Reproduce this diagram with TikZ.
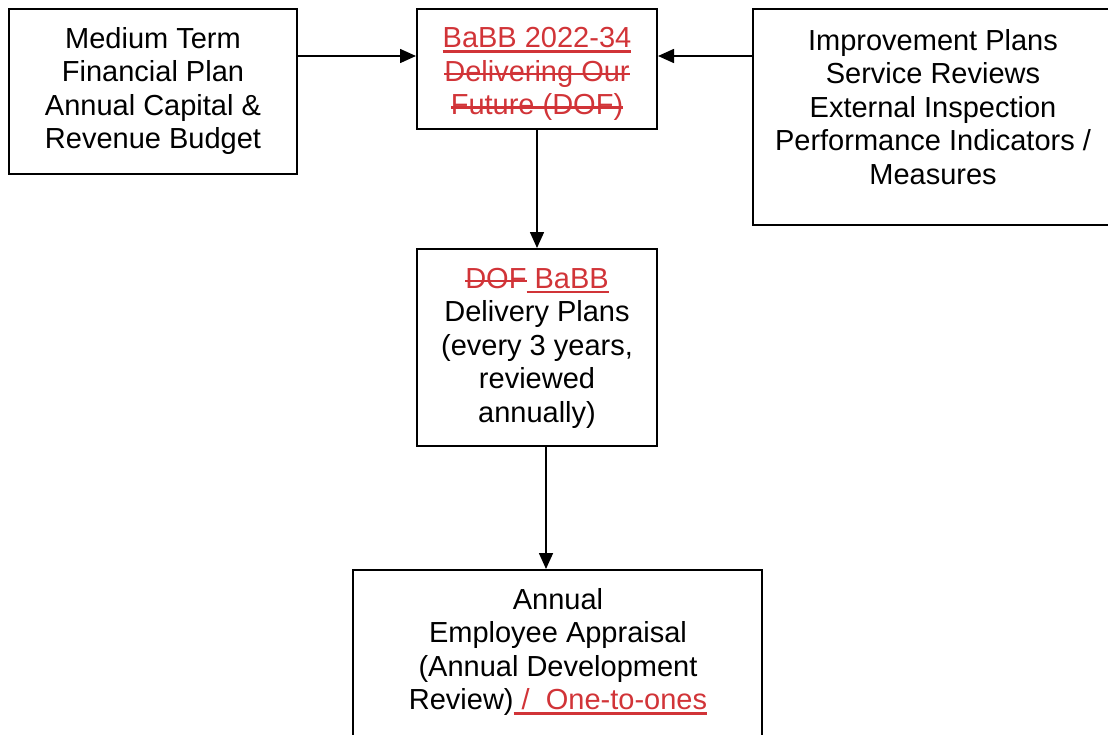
\documentclass[tikz,border=0pt]{standalone}
\usepackage{fontspec}
\setmainfont{Liberation Sans}
\usepackage{tikz}
\usetikzlibrary{arrows.meta}

\definecolor{trackred}{RGB}{209,52,56}
% underlined and struck-out text, red
\newsavebox{\trackbox}
\newcommand{\inserted}[1]{\textcolor{trackred}{\sbox{\trackbox}{#1}%
    \rlap{\rule[-5pt]{\wd\trackbox}{2.6pt}}\usebox{\trackbox}}}
\newcommand{\struck}[1]{\textcolor{trackred}{\sbox{\trackbox}{#1}%
    \rlap{\rule[6pt]{\wd\trackbox}{2.6pt}}\usebox{\trackbox}}}

\begin{document}
\begin{tikzpicture}[
    x=1pt, y=-1pt,
    box/.style={draw, line width=2pt, inner sep=0pt},
    label text/.style={align=center, inner sep=0pt, font=\fontsize{29}{33.5}\selectfont},
    link/.style={draw, line width=1.6pt, -{Triangle[width=14pt,length=16pt]}}
    ]

    \useasboundingbox (0,0) rectangle (1108,734);
    \clip (0,0) rectangle (1108,734);

    % Boxes
    \node[box, minimum width=288pt, minimum height=165pt] (finplan) at (153,91.5) {};
    \node[box, minimum width=240pt, minimum height=120pt] (babb) at (537,69) {};
    \node[box, minimum width=360pt, minimum height=216pt] (review) at (933,117) {};
    \node[box, minimum width=240pt, minimum height=197pt] (delivery) at (537,347.5) {};
    \node[box, minimum width=409pt, minimum height=190pt] (appraisal) at (557.5,665) {};

    % Texts
    \node[label text] (finplantext) at (153,91) {Medium Term\\Financial Plan\\Annual Capital \&\\Revenue Budget};
    \node[label text] (babbtext) at (537,74) {\inserted{BaBB 2022-34}\\\struck{Delivering Our}\\\struck{Future (DOF)}};
    \node[label text] (reviewtext) at (933,107) {Improvement Plans\\Service Reviews\\External Inspection\\Performance Indicators /\\Measures};
    \node[label text] (deliverytext) at (537,348) {\struck{DOF}\inserted{ BaBB}\\Delivery Plans\\(every 3 years,\\reviewed\\annually)};
    \node[label text] (appraisaltext) at (558,652) {Annual\\Employee Appraisal\\(Annual Development\\Review)\inserted{ /\ \ One-to-ones}};

    % Connections
    \path[link] ([yshift=-48pt]finplan.north east) -- ([yshift=-48pt]babb.north west);
    \path[link] ([yshift=-48pt]review.north west) -- ([yshift=-48pt]babb.north east);
    \path[link] (babb) -- (delivery);
    \path[link] ([xshift=9pt]delivery.south) -- ([xshift=9pt]delivery.south |- appraisal.north);

\end{tikzpicture}
\end{document}
